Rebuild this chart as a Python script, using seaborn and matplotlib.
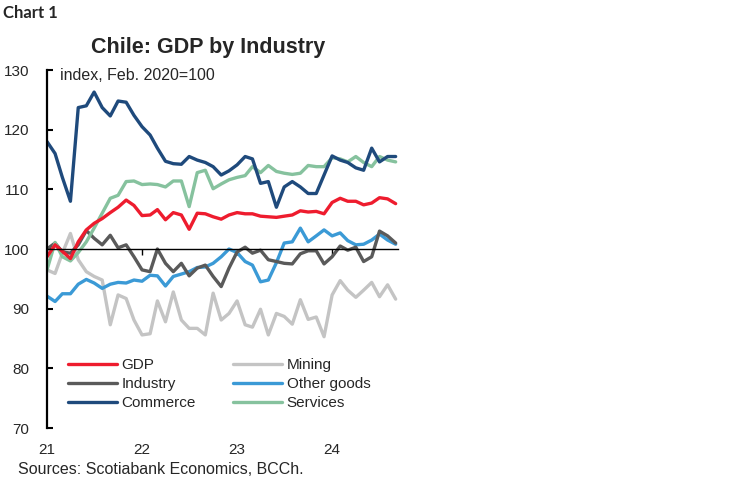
import numpy as np
import pandas as pd
import matplotlib
matplotlib.use("Agg")
import matplotlib.pyplot as plt
import matplotlib.dates as mdates
import seaborn as sns

# ---- data (monthly, Jan 2021 - Sep 2024) ----
months = pd.date_range("2021-01-01", "2024-09-01", freq="MS")

gdp = [98.7, 100.7, 99.6, 98.4, 101.2, 103.2, 104.3, 105.1, 106.1, 107.0,
       108.2, 107.3, 105.6, 105.7, 106.6, 104.9, 106.1, 105.7, 103.3, 106.0,
       105.9, 105.4, 105.0, 105.7, 106.1, 105.9, 105.9, 105.5, 105.4, 105.3,
       105.5, 105.7, 106.4, 106.2, 106.3, 105.9, 107.8, 108.5, 108.0, 108.0,
       107.4, 107.7, 108.6, 108.4, 107.6]
industry = [100.0, 101.0, 99.5, 99.3, 100.7, 103.1, 101.8, 100.7, 102.3, 100.2,
            100.7, 98.7, 96.5, 96.2, 100.0, 97.6, 96.2, 97.6, 95.5, 96.8,
            97.3, 95.4, 93.7, 96.8, 99.5, 100.3, 99.3, 99.8, 98.2, 97.9,
            97.6, 97.5, 99.2, 99.7, 99.7, 97.5, 98.7, 100.5, 99.8, 100.3,
            97.9, 98.7, 103.0, 102.2, 101.0]
commerce = [118.0, 116.0, 112.0, 108.0, 123.7, 124.0, 126.3, 123.7, 122.3, 124.8,
            124.6, 122.4, 120.5, 119.1, 116.9, 114.7, 114.3, 114.2, 115.5, 114.9,
            114.5, 113.8, 112.4, 113.1, 114.1, 115.5, 115.1, 111.0, 111.3, 107.0,
            110.4, 111.3, 110.4, 109.3, 109.3, 112.4, 115.6, 114.9, 114.5, 113.6,
            113.2, 116.9, 114.6, 115.5, 115.5]
mining = [96.5, 95.9, 99.3, 102.6, 98.2, 96.2, 95.4, 94.8, 87.3, 92.3,
          91.7, 88.1, 85.6, 85.8, 91.3, 87.8, 92.8, 88.1, 86.7, 86.7,
          85.6, 92.6, 88.1, 89.2, 91.3, 87.3, 86.9, 89.9, 85.6, 89.2,
          88.7, 87.4, 91.5, 88.2, 88.6, 85.3, 92.3, 94.7, 93.1, 91.9,
          93.1, 94.4, 92.0, 94.0, 91.6]
other_goods = [92.1, 91.2, 92.5, 92.5, 94.1, 94.9, 94.3, 93.4, 94.1, 94.4,
               94.3, 94.8, 94.6, 95.6, 95.5, 93.8, 95.4, 95.8, 96.2, 96.9,
               97.0, 97.6, 98.7, 100.0, 99.4, 97.9, 97.3, 94.5, 94.8, 97.7,
               101.0, 101.2, 103.5, 101.2, 102.2, 103.2, 102.2, 102.7, 101.4, 100.7,
               100.8, 101.5, 102.5, 101.5, 100.8]
services = [96.5, 101.1, 98.7, 98.0, 99.4, 101.2, 103.5, 106.0, 108.5, 109.0,
            111.3, 111.4, 110.8, 110.9, 110.8, 110.4, 111.4, 111.4, 107.1, 112.8,
            113.2, 110.1, 110.9, 111.6, 112.0, 112.3, 113.8, 112.8, 114.0, 113.0,
            112.7, 112.5, 112.7, 114.0, 113.8, 113.8, 115.3, 115.1, 114.6, 115.5,
            114.5, 113.8, 115.5, 114.9, 114.6]

series_names = ["GDP", "Industry", "Commerce", "Mining", "Other goods", "Services"]
series_values = [gdp, industry, commerce, mining, other_goods, services]
series_colors = ["#EE1C2E", "#5A5A5A", "#1F4A7C", "#C4C4C4", "#3B9AD6", "#86C29E"]

year_ticks = ["2021-01-01", "2022-01-01", "2023-01-01", "2024-01-01"]
year_labels = ["21", "22", "23", "24"]
y_ticks = [70, 80, 90, 100, 110, 120, 130]

df = pd.concat(
    [pd.DataFrame({"date": months, "value": v, "series": n})
     for n, v in zip(series_names, series_values)],
    ignore_index=True,
)

# ---- style ----
sns.set_theme(style="white")
plt.rcParams["font.family"] = ["Liberation Sans", "DejaVu Sans"]

fig = plt.figure(figsize=(7.48, 4.83), dpi=100)
ax = fig.add_axes([47 / 748, 1 - 428 / 483, (398 - 47) / 748, (428 - 70) / 483])

sns.lineplot(data=df, x="date", y="value", hue="series", hue_order=series_names,
             palette=dict(zip(series_names, series_colors)), linewidth=2.4,
             ax=ax, legend=True)

# z-order: GDP on top
zmap = {"Mining": 2.0, "Other goods": 2.05, "Industry": 2.1, "Services": 2.15,
        "Commerce": 2.2, "GDP": 2.3}
for line, name in zip(ax.lines[:len(series_names)], series_names):
    line.set_zorder(zmap[name])

ax.set_xlim(pd.Timestamp("2021-01-01"), pd.Timestamp("2024-09-10"))
ax.set_ylim(70, 130)
ax.set_xlabel("")
ax.set_ylabel("")

ax.spines["top"].set_visible(False)
ax.spines["right"].set_visible(False)
ax.spines["left"].set_linewidth(1.6)
ax.spines["left"].set_color("black")
ax.spines["bottom"].set_position(("data", 100))
ax.spines["bottom"].set_linewidth(1.0)
ax.spines["bottom"].set_color("black")

ax.set_yticks(y_ticks)
ax.set_yticklabels([str(t) for t in y_ticks])
ax.tick_params(axis="y", direction="in", length=4, width=1.5, color="black",
               labelsize=11, pad=13, left=True)

xt = [mdates.date2num(pd.Timestamp(d)) for d in year_ticks]
ax.set_xticks(xt)
ax.tick_params(axis="x", direction="out", length=4, width=1.0, color="black",
               labelbottom=False, bottom=True)

sec = ax.secondary_xaxis("bottom")
sec.set_xticks(xt)
sec.set_xticklabels(year_labels)
sec.spines["bottom"].set_visible(False)
sec.tick_params(axis="x", length=0, pad=11, labelsize=11)

handles, labels = ax.get_legend_handles_labels()
ax.legend(handles, labels, ncol=2, frameon=False, fontsize=11,
          loc="upper left", bbox_to_anchor=(68 / 748, 1 - 358 / 483),
          bbox_transform=fig.transFigure, borderpad=0, borderaxespad=0,
          handlelength=3.2, handletextpad=0.3, columnspacing=2.45,
          labelspacing=0.34)

fig.text(3 / 748, 1 - 13 / 483, "Chart 1", ha="left", va="center",
         fontsize=12, fontweight="bold", family=["Lato", "DejaVu Sans"])
fig.text(208 / 748, 1 - 48 / 483, "Chile: GDP by Industry", ha="center",
         va="center", fontsize=15.5, fontweight="bold")
fig.text(60 / 748, 1 - 75 / 483, "index, Feb. 2020=100", ha="left",
         va="center", fontsize=11.5)
fig.text(18 / 748, 1 - 470 / 483, "Sources: Scotiabank Economics, BCCh.",
         ha="left", va="center", fontsize=11.5)

fig.savefig("out.png", dpi=100)
